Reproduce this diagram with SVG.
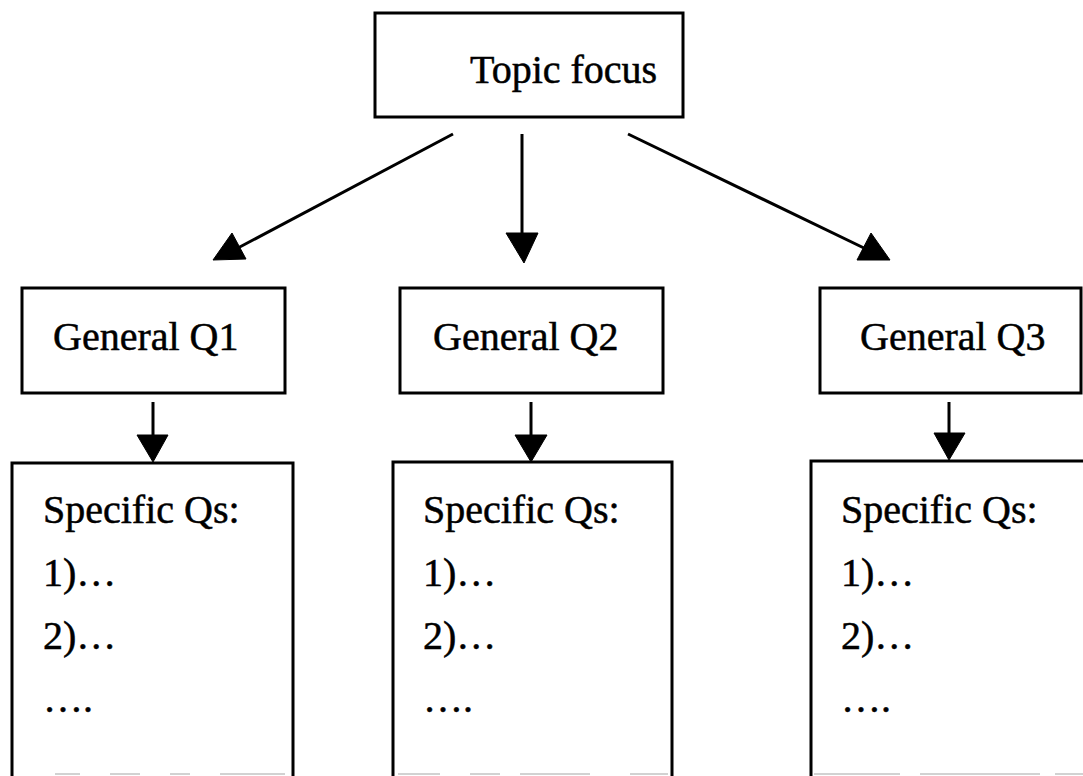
<svg xmlns="http://www.w3.org/2000/svg" width="1083" height="776" viewBox="0 0 1083 776">
<style>
.box{fill:#fff;stroke:#000;stroke-width:3}
.side{fill:none;stroke:#000;stroke-width:3}
.faint{fill:none;stroke:#c4c4c4;stroke-width:1.5}
.t{font-family:"Liberation Serif","Times New Roman",serif;font-size:40px;fill:#000;stroke:#000;stroke-width:0.5}
.ln{stroke:#000;stroke-width:3;fill:none}
.hd{fill:#000;stroke:#000;stroke-width:1}
</style>
<rect width="1083" height="776" fill="#fff"/>
<g id="topic">
<rect class="box" x="375" y="13" width="308" height="104"/>
<text class="t" x="470" y="83">Topic focus</text>
</g>
<g id="general1">
<rect class="box" x="22" y="288" width="263" height="105"/>
<text class="t" x="53" y="350">General Q1</text>
</g>
<g id="general2">
<rect class="box" x="400" y="288" width="263" height="105"/>
<text class="t" x="433" y="350">General Q2</text>
</g>
<g id="general3">
<rect class="box" x="820" y="288" width="261" height="105"/>
<text class="t" x="860" y="350">General Q3</text>
</g>
<g id="specific1">
<path class="side" d="M12,776 V463 H293 V776"/>
<path class="faint" d="M55,774 H80 M110,774 H140 M170,774 H190 M220,774 H285"/>
<text class="t" x="43" y="523">Specific Qs:</text>
<text class="t" x="43" y="586">1)…</text>
<text class="t" x="43" y="649">2)…</text>
<text class="t" x="43" y="712">….</text>
</g>
<g id="specific2">
<path class="side" d="M393,776 V462 H672 V776"/>
<path class="faint" d="M398,774 H440 M470,774 H500 M520,774 H590 M630,774 H668"/>
<text class="t" x="423" y="523">Specific Qs:</text>
<text class="t" x="423" y="586">1)…</text>
<text class="t" x="423" y="649">2)…</text>
<text class="t" x="423" y="712">….</text>
</g>
<g id="specific3">
<path class="side" d="M811,776 V461 H1085"/>
<path class="faint" d="M814,774 H900 M920,774 H1040 M1055,774 H1083"/>
<text class="t" x="841" y="523">Specific Qs:</text>
<text class="t" x="841" y="586">1)…</text>
<text class="t" x="841" y="649">2)…</text>
<text class="t" x="841" y="712">….</text>
</g>
<g id="connectors">
<line class="ln" x1="453" y1="134" x2="236" y2="249"/>
<polygon class="hd" points="213,260 246,259 232,233"/>
<line class="ln" x1="522" y1="134" x2="522" y2="236"/>
<polygon class="hd" points="506,233 538,233 524,263"/>
<line class="ln" x1="628" y1="134" x2="866" y2="249"/>
<polygon class="hd" points="857,260 890,260 871,233"/>
<line class="ln" x1="153" y1="402" x2="153" y2="436"/>
<polygon class="hd" points="137,435 168,435 153,462"/>
<line class="ln" x1="531" y1="402" x2="531" y2="436"/>
<polygon class="hd" points="515,435 547,435 531,462"/>
<line class="ln" x1="949" y1="402" x2="949" y2="434"/>
<polygon class="hd" points="934,433 965,433 949,460"/>
</g>
</svg>
